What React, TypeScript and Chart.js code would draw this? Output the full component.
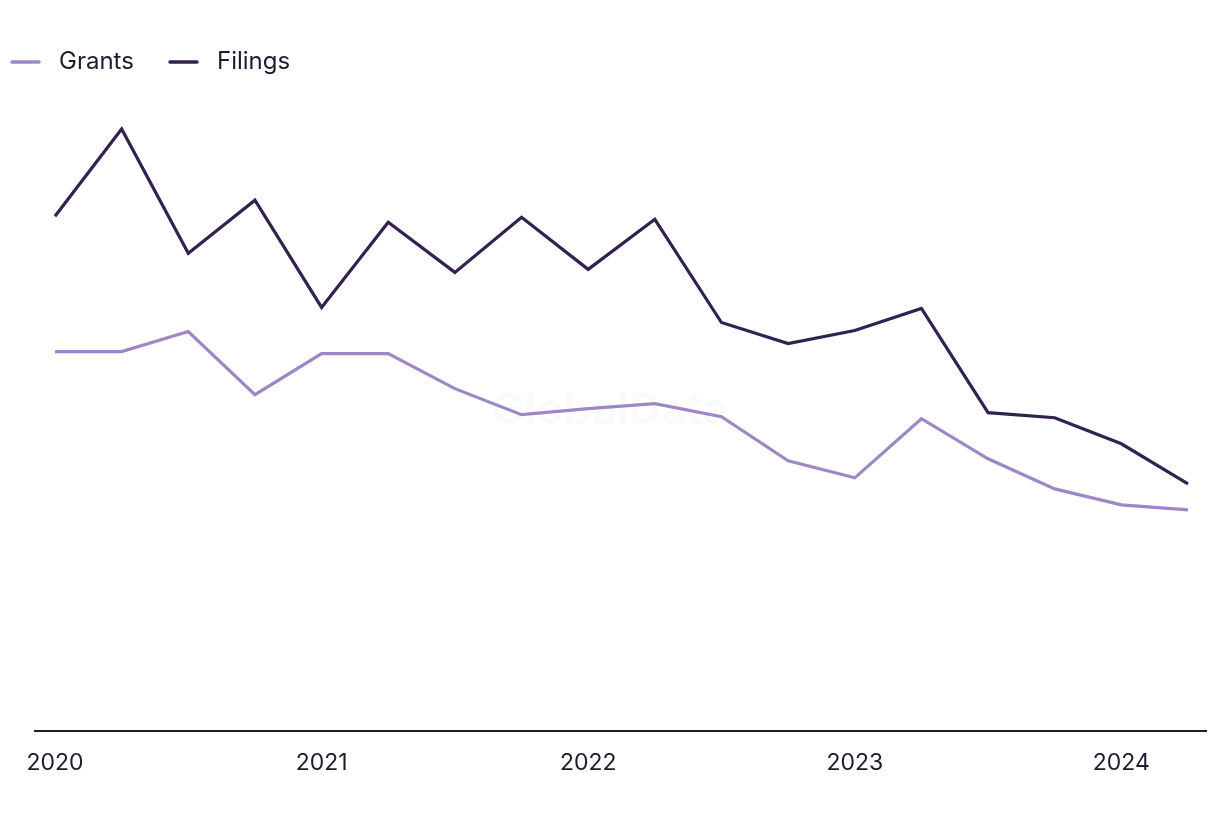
import React, { useEffect, useRef } from "react";
import { Chart, registerables } from "chart.js";

Chart.register(...registerables);

const quarters = [
  "Q1 2020", "Q2 2020", "Q3 2020", "Q4 2020",
  "Q1 2021", "Q2 2021", "Q3 2021", "Q4 2021",
  "Q1 2022", "Q2 2022", "Q3 2022", "Q4 2022",
  "Q1 2023", "Q2 2023", "Q3 2023", "Q4 2023",
  "Q1 2024", "Q2 2024",
];
const yearTickIndex = [0, 4, 8, 12, 16];
const yearTickLabels = ["2020", "2021", "2022", "2023", "2024"];

const grants = [379, 379, 399, 336, 377, 377, 342, 316, 322, 327, 314, 270, 253, 312, 272, 242, 226, 221];
const filings = [514, 601, 477, 530, 423, 508, 458, 513, 461, 511, 408, 387, 400, 422, 318, 313, 287, 247];

const GRANTS_COLOR = "#9d87c6";
const FILINGS_COLOR = "#33214f";
const FONT = "Inter, 'Noto Sans', sans-serif";

const legendPlugin = {
  id: "customLegend",
  afterDraw(chart: any) {
    const ctx = chart.ctx;
    ctx.save();
    const items = [
      { label: "Grants", color: GRANTS_COLOR, x: 10 },
      { label: "Filings", color: FILINGS_COLOR, x: 168 },
    ];
    const y = 62;
    ctx.font = `24px ${FONT}`;
    ctx.textBaseline = "middle";
    items.forEach((it) => {
      ctx.strokeStyle = it.color;
      ctx.lineWidth = 3.5;
      ctx.lineCap = "round";
      ctx.beginPath();
      ctx.moveTo(it.x + 2, y);
      ctx.lineTo(it.x + 29, y);
      ctx.stroke();
      ctx.fillStyle = "#1c1c2e";
      ctx.fillText(it.label, it.x + 49, y);
    });
    ctx.restore();
  },
};

const watermarkPlugin = {
  id: "watermark",
  beforeDatasetsDraw(chart: any) {
    const ctx = chart.ctx;
    ctx.save();
    ctx.font = `bold 44px ${FONT}`;
    ctx.fillStyle = "rgba(0,0,0,0.02)";
    ctx.textAlign = "center";
    ctx.textBaseline = "middle";
    ctx.fillText("GlobalData", 610, 411);
    ctx.restore();
  },
};

export default function App() {
  const ref = useRef<HTMLCanvasElement>(null);
  useEffect(() => {
    if (!ref.current) return;
    const chart = new Chart(ref.current, {
      type: "line",
      data: {
        labels: quarters,
        datasets: [
          {
            label: "Grants",
            data: grants.map((v, i) => ({ x: i, y: v })),
            borderColor: GRANTS_COLOR,
            backgroundColor: GRANTS_COLOR,
            borderWidth: 3.2,
            pointRadius: 0,
            tension: 0,
          },
          {
            label: "Filings",
            data: filings.map((v, i) => ({ x: i, y: v })),
            borderColor: FILINGS_COLOR,
            backgroundColor: FILINGS_COLOR,
            borderWidth: 3.2,
            pointRadius: 0,
            tension: 0,
          },
        ],
      },
      options: {
        animation: false,
        responsive: false,
        maintainAspectRatio: false,
        layout: { padding: { top: 100, left: 35, right: 14, bottom: 25 } },
        plugins: {
          legend: { display: false },
          tooltip: { enabled: false },
        },
        scales: {
          x: {
            type: "linear",
            min: -0.3,
            max: 17.27,
            afterBuildTicks: (scale: any) => {
              scale.ticks = yearTickIndex.map((v) => ({ value: v }));
            },
            grid: { display: false, drawTicks: false },
            border: { display: true, color: "#1c1c2e", width: 2 },
            ticks: {
              padding: 18,
              autoSkip: false,
              maxRotation: 0,
              color: "#1c1c2e",
              font: { family: FONT, size: 23 },
              callback: (value: any) => {
                const idx = yearTickIndex.indexOf(Number(value));
                return idx >= 0 ? yearTickLabels[idx] : "";
              },
            },
          },
          y: {
            display: false,
            min: 0,
            max: 630,
          },
        },
      },
      plugins: [watermarkPlugin, legendPlugin],
    });
    return () => chart.destroy();
  }, []);
  return (
    <div style={{ position: "absolute", left: 0, top: 0, width: 1220, height: 820, background: "#fff" }}>
      <canvas ref={ref} width={1220} height={820} style={{ display: "block" }} />
    </div>
  );
}
